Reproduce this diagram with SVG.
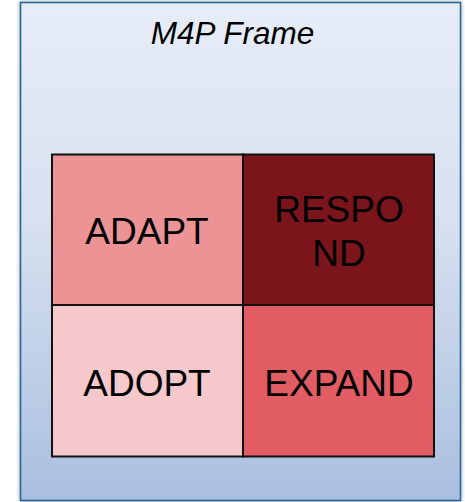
<svg xmlns="http://www.w3.org/2000/svg" width="465" height="502" viewBox="0 0 465 502">
  <defs>
    <linearGradient id="frameFill" x1="0" y1="0" x2="0" y2="1">
      <stop offset="0" stop-color="#e7edf7"/>
      <stop offset="0.45" stop-color="#d6e0ef"/>
      <stop offset="1" stop-color="#a9bfdf"/>
    </linearGradient>
    <filter id="shadow" x="-10%" y="-10%" width="120%" height="120%">
      <feGaussianBlur in="SourceAlpha" stdDeviation="2"/>
      <feComponentTransfer><feFuncA type="linear" slope="0.35"/></feComponentTransfer>
      <feMerge><feMergeNode/><feMergeNode in="SourceGraphic"/></feMerge>
    </filter>
  </defs>
  <style>
    .cell { stroke: #111; stroke-width: 2; }
    .lbl { font-family: "Liberation Sans", Arial, sans-serif; font-size: 37px; fill: #000; text-anchor: middle; }
    .title { font-family: "Liberation Sans", Arial, sans-serif; font-size: 31.5px; font-style: italic; fill: #000; text-anchor: middle; }
  </style>

  <!-- outer frame -->
  <g id="frame">
    <rect x="20.5" y="2.5" width="440" height="498" fill="url(#frameFill)" stroke="#26679a" stroke-width="1.6" filter="url(#shadow)"/>
    <text class="title" x="232.5" y="43.5">M4P Frame</text>
  </g>

  <!-- quadrants -->
  <g id="adapt">
    <rect class="cell" x="52" y="154.5" width="191" height="150.5" fill="#ec9396"/>
    <text class="lbl" x="147" y="244">ADAPT</text>
  </g>
  <g id="respond">
    <rect class="cell" x="243" y="154.5" width="191" height="150.5" fill="#7b151b"/>
    <text class="lbl" x="339" y="222">RESPO</text>
    <text class="lbl" x="339" y="266">ND</text>
  </g>
  <g id="adopt">
    <rect class="cell" x="52" y="305" width="191" height="151.5" fill="#f5c8cb"/>
    <text class="lbl" x="147" y="396">ADOPT</text>
  </g>
  <g id="expand">
    <rect class="cell" x="243" y="305" width="191" height="151.5" fill="#e25c63"/>
    <text class="lbl" x="339" y="396">EXPAND</text>
  </g>

  <g id="connectors"/>
</svg>
